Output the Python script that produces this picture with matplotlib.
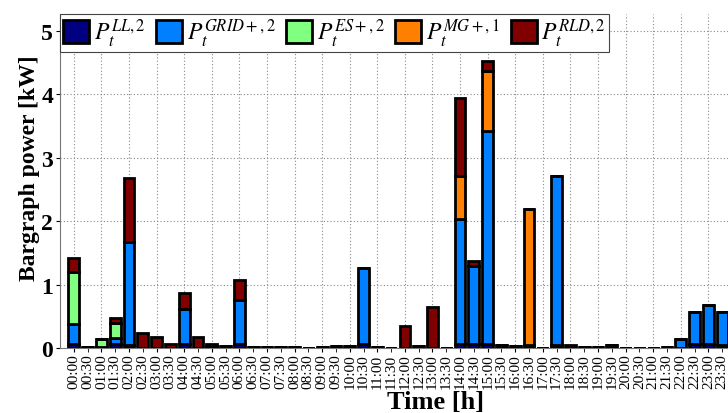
import matplotlib
matplotlib.use("Agg")
import matplotlib.pyplot as plt
import numpy as np

plt.rcParams["font.family"] = ["Liberation Serif", "DejaVu Serif"]
plt.rcParams["mathtext.fontset"] = "stix"

times = [f"{h:02d}:{m:02d}" for h in range(24) for m in (0, 30)]

# stacked components (kW), one value per half hour
p_ll = [0.07, 0.01, 0.01, 0.06, 0.05, 0.0, 0.0, 0.0, 0.07, 0.0, 0.03, 0.03,
        0.07, 0.01, 0.01, 0.01, 0.02, 0.0, 0.02, 0.03, 0.03, 0.06, 0.02, 0.0,
        0.0, 0.03, 0.0, 0.0, 0.06, 0.06, 0.06, 0.05, 0.03, 0.05, 0.0, 0.05,
        0.0, 0.01, 0.01, 0.04, 0.0, 0.0, 0.0, 0.02, 0.0, 0.06, 0.06, 0.05]
p_grid = [0.31, 0.0, 0.0, 0.10, 1.62, 0.0, 0.0, 0.0, 0.54, 0.0, 0.0, 0.0,
          0.69, 0.0, 0.0, 0.0, 0.0, 0.0, 0.0, 0.0, 0.0, 1.21, 0.0, 0.0,
          0.0, 0.0, 0.0, 0.0, 1.97, 1.23, 3.36, 0.0, 0.0, 0.0, 0.0, 2.67,
          0.0, 0.0, 0.0, 0.0, 0.0, 0.0, 0.0, 0.0, 0.14, 0.51, 0.62, 0.52]
p_es = [0.82, 0.0, 0.13, 0.23, 0.0, 0.0, 0.0, 0.0, 0.0, 0.0, 0.0, 0.0,
        0.0, 0.0, 0.0, 0.0, 0.0, 0.0, 0.0, 0.0, 0.0, 0.0, 0.0, 0.0,
        0.0, 0.0, 0.0, 0.0, 0.0, 0.0, 0.0, 0.0, 0.0, 0.0, 0.0, 0.0,
        0.0, 0.0, 0.0, 0.0, 0.0, 0.0, 0.0, 0.0, 0.0, 0.0, 0.0, 0.0]
p_mg = [0.0, 0.0, 0.0, 0.0, 0.0, 0.0, 0.0, 0.0, 0.0, 0.0, 0.0, 0.0,
        0.0, 0.0, 0.0, 0.0, 0.0, 0.0, 0.0, 0.0, 0.0, 0.0, 0.0, 0.0,
        0.0, 0.0, 0.0, 0.0, 0.68, 0.0, 0.95, 0.0, 0.0, 2.15, 0.0, 0.0,
        0.0, 0.0, 0.0, 0.0, 0.0, 0.0, 0.0, 0.0, 0.0, 0.0, 0.0, 0.0]
p_rld = [0.22, 0.0, 0.0, 0.08, 1.02, 0.23, 0.18, 0.07, 0.26, 0.18, 0.04, 0.0,
         0.32, 0.0, 0.0, 0.0, 0.0, 0.0, 0.0, 0.0, 0.0, 0.0, 0.0, 0.0,
         0.35, 0.0, 0.64, 0.0, 1.24, 0.08, 0.16, 0.0, 0.0, 0.0, 0.0, 0.0,
         0.05, 0.0, 0.0, 0.0, 0.0, 0.0, 0.0, 0.0, 0.0, 0.0, 0.0, 0.0]

series = [
    (p_ll, r"$P_t^{LL,2}$", "#000080"),
    (p_grid, r"$P_t^{GRID+,2}$", "#0080ff"),
    (p_es, r"$P_t^{ES+,2}$", "#80ff80"),
    (p_mg, r"$P_t^{MG+,1}$", "#ff8000"),
    (p_rld, r"$P_t^{RLD,2}$", "#800000"),
]

fig = plt.figure(figsize=(7.28, 4.14), dpi=100)
ax = fig.add_axes([60 / 728, 65 / 414, 676 / 728, 334 / 414])

x = np.arange(len(times))
bottom = np.zeros(len(times))
for values, label, color in series:
    values = np.array(values)
    ax.bar(x, values, 0.78, bottom=bottom, color=color, edgecolor="black",
           linewidth=2, label=label, zorder=3)
    bottom += values

ax.set_xlim(-1, 48)
ax.set_ylim(0, 5.27)
ax.set_yticks(range(6))
ax.set_yticklabels([str(v) for v in range(6)], fontsize=17, fontweight="bold")

ax.set_xticks(x[::2])
ax.set_xticklabels(times[::2], rotation=90, fontsize=11)
ax.set_xticks(x[1::2], minor=True)
ax.set_xticklabels(times[1::2], minor=True, rotation=90, fontsize=11)
ax.tick_params(axis="x", which="both", length=3, pad=1)
ax.tick_params(axis="y", length=3, pad=2)

ax.grid(True, which="major", color="#888888", linestyle=(0, (1, 2)), linewidth=0.8)
ax.set_axisbelow(True)
for side in ("top", "right"):
    ax.spines[side].set_visible(False)
ax.spines["left"].set_color("#777777")
ax.spines["bottom"].set_color("#777777")

ax.set_ylabel("Bargraph power [kW]", fontsize=17, fontweight="bold")
ax.yaxis.set_label_coords(-0.03, 0.54)
ax.set_xlabel("Time [h]", fontsize=19, fontweight="bold")
ax.xaxis.set_label_coords(0.555, -0.126)

leg = ax.legend(loc="upper left", bbox_to_anchor=(0, 1), ncol=5, fontsize=17,
                frameon=True, fancybox=False, borderaxespad=0, handlelength=1.1,
                handleheight=1.1, handletextpad=0.2, columnspacing=0.45,
                borderpad=0.12)
leg.get_frame().set_edgecolor("#444444")
leg.get_frame().set_linewidth(0.8)
leg.get_frame().set_alpha(1)

fig.savefig("out.png", dpi=100)
